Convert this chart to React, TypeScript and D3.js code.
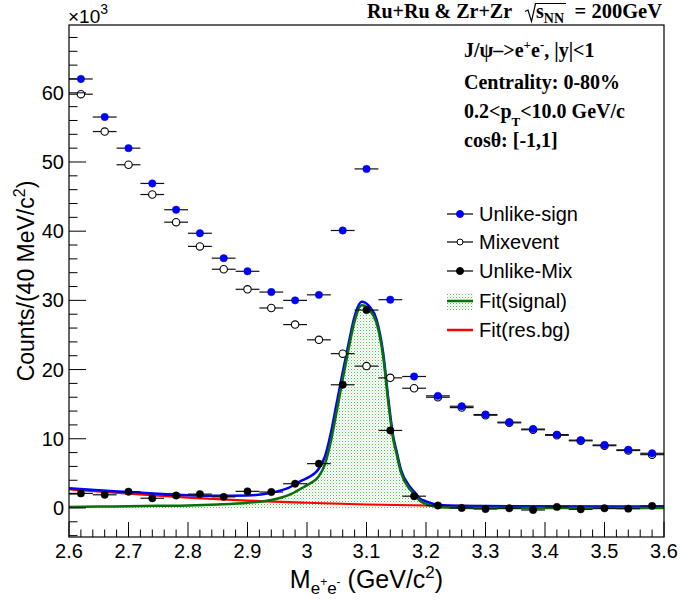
import React from "react";
import * as d3 from "d3";

// bin centres (GeV/c^2), bin width 40 MeV
const massBins = [2.62, 2.66, 2.70, 2.74, 2.78, 2.82, 2.86, 2.90, 2.94, 2.98, 3.02, 3.06, 3.10, 3.14, 3.18, 3.22, 3.26, 3.30, 3.34, 3.38, 3.42, 3.46, 3.50, 3.54, 3.58];
// counts in units of 10^3
const unlikeSign = [62.0, 56.5, 52.0, 46.9, 43.1, 39.7, 36.1, 34.2, 31.2, 30.0, 30.8, 40.1, 49.0, 30.1, 19.0, 16.2, 14.7, 13.5, 12.4, 11.4, 10.6, 9.8, 9.1, 8.4, 7.9];
const mixEvent = [59.8, 54.4, 49.6, 45.3, 41.3, 37.8, 34.5, 31.6, 28.9, 26.5, 24.3, 22.3, 20.5, 18.8, 17.3, 16.0, 14.5, 13.4, 12.3, 11.3, 10.5, 9.7, 9.0, 8.3, 7.7];
const unlikeMix = [2.1, 1.9, 2.35, 1.4, 1.8, 2.0, 1.6, 2.4, 2.3, 3.5, 6.4, 17.8, 28.6, 11.2, 1.7, 0.35, 0.0, -0.15, -0.05, -0.3, 0.15, -0.2, -0.05, -0.1, 0.3];

// fit curves
const fitMass = [2.60, 2.65, 2.70, 2.75, 2.80, 2.85, 2.90, 2.94, 2.97, 2.99, 3.00, 3.02, 3.03, 3.04, 3.05, 3.06, 3.07, 3.08, 3.092, 3.105, 3.117, 3.128, 3.137, 3.145, 3.15, 3.158, 3.173, 3.18, 3.19, 3.20, 3.21, 3.22, 3.25, 3.30, 3.60];
const fitSignal = [0.15, 0.2, 0.25, 0.3, 0.35, 0.5, 0.75, 1.15, 1.9, 2.8, 3.3, 4.6, 6.3, 9.6, 14.0, 18.6, 23.0, 27.0, 29.3, 28.6, 26.7, 21.9, 15.0, 9.9, 8.0, 5.1, 2.7, 2.0, 1.0, 0.6, 0.3, 0.1, 0.02, 0, 0];
const fitTotal = [2.85, 2.55, 2.3, 2.05, 1.85, 1.75, 1.8, 2.2, 2.95, 3.9, 4.3, 5.7, 7.4, 10.8, 15.2, 19.6, 23.8, 27.7, 29.8, 29.1, 27.2, 22.4, 15.5, 10.3, 8.4, 5.5, 3.05, 2.35, 1.35, 0.95, 0.65, 0.45, 0.3, 0.27, 0.18];
const resBgMass = [2.6, 2.7, 2.8, 2.9, 3.0, 3.1, 3.2, 3.3, 3.4, 3.5, 3.6];
const resBg = [2.7, 2.05, 1.5, 1.05, 0.75, 0.5, 0.35, 0.27, 0.22, 0.2, 0.18];

const xTickLabels = ["2.6", "2.7", "2.8", "2.9", "3", "3.1", "3.2", "3.3", "3.4", "3.5", "3.6"];
const yTickLabels = ["0", "10", "20", "30", "40", "50", "60"];

const W = 680;
const H = 601;
const frame = { left: 69, right: 664, top: 25, bottom: 537 };
const halfBin = 0.02;

const sans = "'Liberation Sans', Arial, sans-serif";
const serif = "'Liberation Serif', 'Times New Roman', serif";

const App = () => {
  const x = d3.scaleLinear().domain([2.6, 3.6]).range([frame.left, frame.right]);
  const y = d3.scaleLinear().domain([-4.2, 69.8]).range([frame.bottom, frame.top]);

  const line = d3
    .line<[number, number]>()
    .x(d => x(d[0]))
    .y(d => y(d[1]))
    .curve(d3.curveMonotoneX);
  const area = d3
    .area<[number, number]>()
    .x(d => x(d[0]))
    .y0(y(0))
    .y1(d => y(d[1]))
    .curve(d3.curveMonotoneX);

  const sigPts = fitMass.map((m, i) => [m, fitSignal[i]] as [number, number]);
  const totPts = fitMass.map((m, i) => [m, fitTotal[i]] as [number, number]);
  const bgPts = resBgMass.map((m, i) => [m, resBg[i]] as [number, number]);

  const xMinor = d3.range(0, 51).map(i => 2.6 + i * 0.02);
  const yMinor = d3.range(-2, 35).map(i => i * 2);

  const green = "#087008";

  const points = (vals: number[], kind: string) =>
    massBins.map((m, i) => (
      <g key={kind + i}>
        <line x1={x(m - halfBin)} x2={x(m + halfBin)} y1={y(vals[i])} y2={y(vals[i])} stroke="#111" strokeWidth={1.2} />
        <circle
          cx={x(m)}
          cy={y(vals[i])}
          r={3.7}
          fill={kind === "sign" ? "#0000ff" : kind === "mix" ? "#fff" : "#000"}
          stroke={kind === "sign" ? "#0000ff" : "#000"}
          strokeWidth={kind === "mix" ? 1.1 : 0.5}
        />
      </g>
    ));

  const legendRows = [
    { label: "Unlike-sign", y: 214, kind: "sign" },
    { label: "Mixevent", y: 242, kind: "mix" },
    { label: "Unlike-Mix", y: 271, kind: "diff" },
    { label: "Fit(signal)", y: 301, kind: "sig" },
    { label: "Fit(res.bg)", y: 330, kind: "bg" },
  ];

  return (
    <svg width={W} height={H} style={{ position: "absolute", left: 0, top: 0, background: "#fff" }}>
      <defs>
        <pattern id="dots" width={3} height={3} patternUnits="userSpaceOnUse">
          <rect x={0} y={0} width={1} height={1} fill="#55c055" />
          <rect x={1.5} y={1.5} width={1} height={1} fill="#9ad89a" />
        </pattern>
        <clipPath id="frameClip">
          <rect x={frame.left} y={frame.top} width={frame.right - frame.left} height={frame.bottom - frame.top} />
        </clipPath>
      </defs>
      <rect width={W} height={H} fill="#fff" />

      {/* fits */}
      <g clipPath="url(#frameClip)">
        <path d={area(sigPts) || ""} fill="url(#dots)" />
        <path d={line(bgPts) || ""} fill="none" stroke="#ff0000" strokeWidth={2.2} />
        <path d={line(totPts) || ""} fill="none" stroke="#0000ff" strokeWidth={2.5} />
        <path d={line(sigPts) || ""} fill="none" stroke={green} strokeWidth={2.5} />
      </g>

      {/* data */}
      {points(mixEvent, "mix")}
      {points(unlikeSign, "sign")}
      {points(unlikeMix, "diff")}

      {/* frame */}
      <rect x={frame.left} y={frame.top} width={frame.right - frame.left} height={frame.bottom - frame.top} fill="none" stroke="#000" strokeWidth={1.2} />

      {/* x axis */}
      {xMinor.map((v, i) => (
        <line key={"xm" + i} x1={x(v)} x2={x(v)} y1={frame.bottom} y2={frame.bottom - (i % 5 === 0 ? 15 : 7.5)} stroke="#000" strokeWidth={1} />
      ))}
      {xTickLabels.map((t, i) => (
        <text key={"xl" + t} x={x(2.6 + i * 0.1)} y={558} textAnchor="middle" fontFamily={sans} fontSize={20}>
          {t}
        </text>
      ))}
      <text x={(frame.left + frame.right) / 2} y={588} textAnchor="middle" fontFamily={sans} fontSize={25}>
        M
        <tspan fontSize={17} dy={6}>e</tspan>
        <tspan fontSize={12} dy={-8}>+</tspan>
        <tspan fontSize={17} dy={8}>e</tspan>
        <tspan fontSize={12} dy={-8}>-</tspan>
        <tspan dy={2}> (GeV/c</tspan>
        <tspan fontSize={17} dy={-10}>2</tspan>
        <tspan dy={10}>)</tspan>
      </text>

      {/* y axis */}
      {yMinor.map((v, i) => (
        <line key={"ym" + i} x1={frame.left} x2={frame.left + (v % 10 === 0 ? 17 : 8.5)} y1={y(v)} y2={y(v)} stroke="#000" strokeWidth={1} />
      ))}
      {yTickLabels.map((t, i) => (
        <text key={"yl" + t} x={64} y={y(i * 10) + 7} textAnchor="end" fontFamily={sans} fontSize={20}>
          {t}
        </text>
      ))}
      <text x={68} y={23} fontFamily={sans} fontSize={19}>
        ×10<tspan fontSize={14} dy={-9}>3</tspan>
      </text>
      <text
        transform={`translate(34,${(frame.top + frame.bottom) / 2}) rotate(-90)`}
        textAnchor="middle"
        fontFamily={sans}
        fontSize={23}
      >
        Counts/(40 MeV/c<tspan fontSize={16} dy={-9}>2</tspan>
        <tspan dy={9}>)</tspan>
      </text>

      {/* title */}
      <text x={367} y={18} fontFamily={serif} fontWeight="bold" fontSize={20}>
        Ru+Ru &amp; Zr+Zr
      </text>
      <path d="M525,11.5 L528,10 L531.5,21.5 L535.5,3.5 L566,3.5" fill="none" stroke="#000" strokeWidth={1.2} />
      <text x={536} y={18} fontFamily={serif} fontWeight="bold" fontSize={20}>
        s<tspan fontSize={14} dy={5}>NN</tspan>
      </text>
      <text x={662} y={18} textAnchor="end" fontFamily={serif} fontWeight="bold" fontSize={20.5}>
        = 200GeV
      </text>

      {/* info text */}
      <g fontFamily={serif} fontWeight="bold" fontSize={20}>
        <text x={464} y={57}>
          J/ψ–&gt;e<tspan fontSize={13} dy={-8}>+</tspan>
          <tspan dy={8}>e</tspan>
          <tspan fontSize={13} dy={-8}>-</tspan>
          <tspan dy={8}>,  |y|&lt;1</tspan>
        </text>
        <text x={464} y={89}>Centrality: 0-80%</text>
        <text x={464} y={118}>
          0.2&lt;p<tspan fontSize={13} dy={8}>T</tspan>
          <tspan dy={-8}>&lt;10.0 GeV/c</tspan>
        </text>
        <text x={464} y={147}>cosθ: [-1,1]</text>
      </g>

      {/* legend */}
      {legendRows.map(r => (
        <g key={r.label}>
          {r.kind === "sig" && <rect x={447} y={r.y - 8} width={26} height={17} fill="url(#dots)" />}
          <line
            x1={447}
            x2={473}
            y1={r.y}
            y2={r.y}
            stroke={r.kind === "sig" ? green : r.kind === "bg" ? "#ff0000" : "#000"}
            strokeWidth={r.kind === "sig" || r.kind === "bg" ? 2.5 : 1.2}
          />
          {(r.kind === "sign" || r.kind === "mix" || r.kind === "diff") && (
            <circle
              cx={460}
              cy={r.y}
              r={r.kind === "mix" ? 3 : 3.5}
              fill={r.kind === "sign" ? "#0000ff" : r.kind === "mix" ? "#fff" : "#000"}
              stroke={r.kind === "sign" ? "#0000ff" : "#000"}
              strokeWidth={1}
            />
          )}
          <text x={479} y={r.y + 7} fontFamily={sans} fontSize={20}>
            {r.label}
          </text>
        </g>
      ))}
    </svg>
  );
};

export default App;
